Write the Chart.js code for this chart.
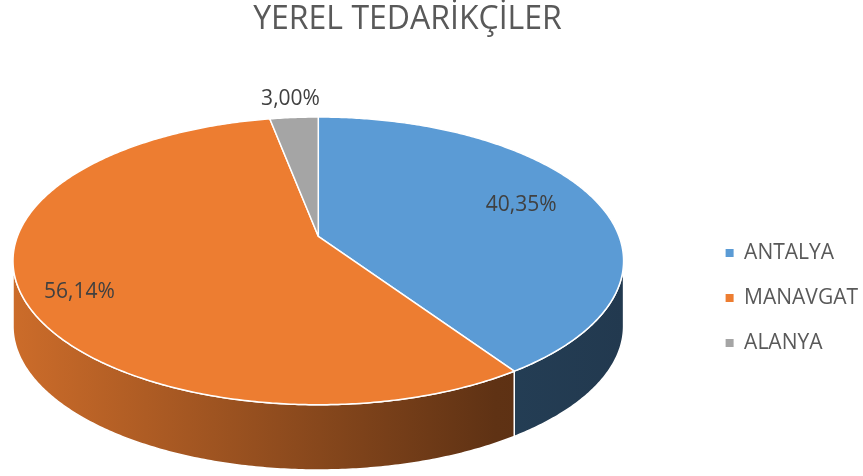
<!DOCTYPE html>
<html>
<head>
<meta charset="utf-8">
<script src="https://cdn.jsdelivr.net/npm/chart.js@4.4.0/dist/chart.umd.min.js"></script>
<style>
    html, body { margin: 0; padding: 0; background: #fff; }
    #wrap { width: 863px; height: 476px; position: relative; }
</style>
</head>
<body>
<div id="wrap"><canvas id="pieChart"></canvas></div>
<script>
const chartTitle = 'YEREL TEDARİKÇİLER';
const categories = ['ANTALYA', 'MANAVGAT', 'ALANYA'];
const shareValues = [40.35, 56.14, 3.00];
const sliceColors = ['#5b9bd5', '#ed7d31', '#a5a5a5'];

// 3D look: perspective strength, height/width of the top ellipse, thickness
const view3d = { perspective: 0.171, flatten: 0.4643, depth: 0.217, topGap: 3, bottomGap: 6 };

function hexToRgb(hex) {
    const n = parseInt(hex.slice(1), 16);
    return [(n >> 16) & 255, (n >> 8) & 255, n & 255];
}
function shade(rgb, f) {
    return 'rgb(' + rgb.map(c => Math.round(c * f)).join(',') + ')';
}

const pie3d = {
    id: 'pie3d',
    beforeDatasetsDraw(chart) {
        const ctx = chart.ctx;
        const area = chart.chartArea;
        const arcs = chart.getDatasetMeta(0).data;
        const k = view3d.perspective;
        const top = area.top - view3d.topGap;
        const bottom = area.bottom - view3d.bottomGap;
        const span = view3d.flatten * (1 / (1 + k) + 1 / (1 - k)) + view3d.depth;
        const rx = (bottom - top) / span;
        const ry = rx * view3d.flatten;
        const depth = rx * view3d.depth;
        const ext = 1 / Math.sqrt(1 - k * k);
        const cx = area.left + rx * ext;
        const cy = top + ry / (1 + k);

        const proj = (a, r, h) => {
            const X = r * Math.cos(a), Z = r * Math.sin(a), w = 1 - k * Z;
            return [cx + rx * X / w, cy + ry * Z / w + h * depth];
        };
        const rim = (s, e, h) => {
            const n = Math.max(2, Math.ceil((e - s) / 0.01));
            const pts = [];
            for (let i = 0; i <= n; i++) pts.push(proj(s + (e - s) * i / n, 1, h));
            return pts;
        };

        ctx.save();
        ctx.lineJoin = 'round';
        ctx.strokeStyle = '#ffffff';
        ctx.lineWidth = 1.5;

        // side walls (front half only)
        const v0 = Math.asin(k), v1 = Math.PI - v0;
        const gx0 = cx - rx * ext, gx1 = cx + rx * ext;
        arcs.forEach((arc, i) => {
            const lo = Math.max(arc.startAngle, v0);
            const hi = Math.min(arc.endAngle, v1);
            if (hi <= lo) return;
            const rgb = hexToRgb(sliceColors[i]);
            const grad = ctx.createLinearGradient(gx0, 0, gx1, 0);
            grad.addColorStop(0, shade(rgb, 0.86));
            grad.addColorStop(0.79, shade(rgb, 0.40));
            grad.addColorStop(1, shade(rgb, 0.37));
            const upper = rim(lo, hi, 0);
            const lower = rim(lo, hi, 1).reverse();
            ctx.beginPath();
            upper.concat(lower).forEach((p, j) => j ? ctx.lineTo(p[0], p[1]) : ctx.moveTo(p[0], p[1]));
            ctx.closePath();
            ctx.fillStyle = grad;
            ctx.fill();
            ctx.stroke();
        });

        // top faces
        arcs.forEach((arc, i) => {
            ctx.beginPath();
            ctx.moveTo(cx, cy);
            rim(arc.startAngle, arc.endAngle, 0).forEach(p => ctx.lineTo(p[0], p[1]));
            ctx.closePath();
            ctx.fillStyle = sliceColors[i];
            ctx.fill();
            ctx.stroke();
        });

        // data labels
        ctx.fillStyle = '#404040';
        ctx.font = "21px 'Open Sans', sans-serif";
        ctx.textAlign = 'center';
        ctx.textBaseline = 'middle';
        arcs.forEach((arc, i) => {
            const share = (arc.endAngle - arc.startAngle) / (2 * Math.PI);
            const r = share < 0.05 ? 1.17 : 0.52 + 0.52 * share;
            const p = proj((arc.startAngle + arc.endAngle) / 2, r, 0);
            ctx.fillText(shareValues[i].toFixed(2).replace('.', ',') + '%', p[0], p[1] + (share > 0.5 ? 10 : -2));
        });
        ctx.restore();
        return false;
    }
};

const titleShift = {
    id: 'titleShift',
    afterLayout(chart) {
        chart.titleBlock.right -= 66;
    }
};

Chart.defaults.font.family = "'Open Sans', sans-serif";
Chart.defaults.color = '#595959';

const canvas = document.getElementById('pieChart');
new Chart(canvas.getContext('2d'), {
    type: 'pie',
    data: {
        labels: categories,
        datasets: [{
            data: shareValues,
            backgroundColor: sliceColors,
            borderWidth: 0
        }]
    },
    options: {
        responsive: true,
        maintainAspectRatio: false,
        animation: false,
        events: [],
        layout: { padding: { left: 13, right: -5, top: 0, bottom: 0 } },
        plugins: {
            title: {
                display: true,
                text: chartTitle,
                color: '#595959',
                font: { size: 32, weight: 'normal' },
                padding: { top: 1, bottom: 80.6 }
            },
            legend: {
                position: 'right',
                fullSize: false,
                labels: {
                    boxWidth: 8,
                    boxHeight: 8,
                    padding: 24,
                    color: '#595959',
                    font: { size: 21 }
                }
            },
            tooltip: { enabled: false }
        }
    },
    plugins: [pie3d, titleShift]
});
</script>
</body>
</html>
